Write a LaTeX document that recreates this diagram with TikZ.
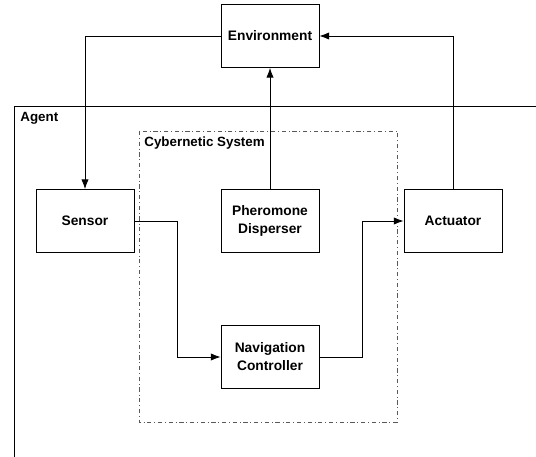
\documentclass[tikz,border=0pt]{standalone}
\usepackage{fontspec}
\setmainfont{Liberation Sans}
\usetikzlibrary{
    arrows.meta,
    calc
}
\tikzset{
  every path/.style={
    black,
    line width=0.6pt
  },
  block/.style={
    draw,
    minimum width=2.45cm,
    minimum height=1.575cm,
    align=center,
    font=\fontsize{9.8}{12.8}\selectfont\bfseries
  },
  title/.style={
    anchor=north west,
    inner sep=0pt,
    font=\fontsize{9.5}{11}\selectfont\bfseries
  },
  link/.style={
    -{Latex[length=2.4mm,width=1.8mm]}
  }
}

\begin{document}
\begin{tikzpicture}[x=0.025cm,y=-0.025cm]
\useasboundingbox (0,0) rectangle (536,457);
% agent frame
\draw (536,106) -- (14,106) -- (14,457);
\node[title] (agent) at (20,112) {Agent};
% cybernetic system
\draw[gray!70!black,dash dot] (139,131) rectangle (397,422);
\node[title] (cyber) at (144,136) {Cybernetic System};
% blocks
\node[block] (env) at (270,36) {Environment};
\node[block] (sens) at (85,221) {Sensor};
\node[block] (pher) at (270,221) {Pheromone\\Disperser};
\node[block] (act) at (453,221) {Actuator};
\node[block] (nav) at (270,357) {Navigation\\Controller};
% links
\draw[link] (env.west) -| (sens.north);
\draw[link] (pher.north) -- (env.south);
\draw[link] (act.north) |- (env.east);
\draw[link] (sens.east) -- ++(43,0) |- (nav.west);
\draw[link] (nav.east) -- ++(43,0) |- (act.west);
\end{tikzpicture}
\end{document}
